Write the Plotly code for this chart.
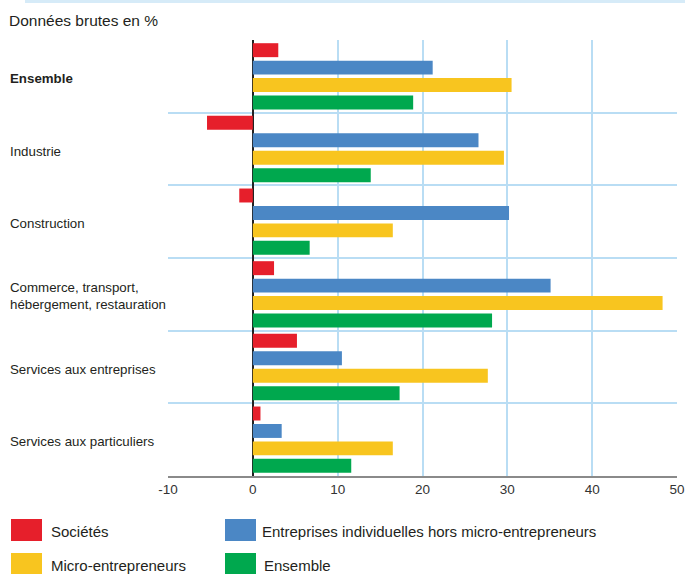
import plotly.graph_objects as go

categories = ["Ensemble", "Industrie", "Construction",
              "Commerce, transport,<br>hébergement, restauration",
              "Services aux entreprises", "Services aux particuliers"]
series_names = ["Sociétés", "Entreprises individuelles hors micro-entrepreneurs",
                "Micro-entrepreneurs", "Ensemble"]
societes = [3.0, -5.4, -1.6, 2.5, 5.2, 0.9]
entreprises_ind = [21.2, 26.6, 30.2, 35.1, 10.5, 3.4]
micro = [30.5, 29.6, 16.5, 48.3, 27.7, 16.5]
ensemble = [18.9, 13.9, 6.7, 28.2, 17.3, 11.6]
colors = ["#E61F2B", "#4B87C5", "#F8C51F", "#00A84E"]
x_ticks = [-10, 0, 10, 20, 30, 40, 50]

FONT = "Liberation Sans, Arial, Helvetica, sans-serif"
W, H = 685, 574
ML, MR, MT, MB = 168, 8, 40, 98
PW, PH = W - ML - MR, H - MT - MB

def px_x(p):
    return (p - ML) / PW

def px_y(p):
    return (H - MB - p) / PH

fig = go.Figure()
for name, vals, col in zip(series_names, [societes, entreprises_ind, micro, ensemble], colors):
    fig.add_trace(go.Bar(y=categories, x=vals, orientation="h", name=name,
                         marker=dict(color=col, line=dict(width=0)), showlegend=False))

# category labels, left aligned
for cat in categories:
    txt = "<b>%s</b>" % cat if cat == "Ensemble" else cat
    fig.add_annotation(x=px_x(8), xref="paper", y=cat, yref="y", text=txt,
                       showarrow=False, xanchor="left", align="left", yshift=-2,
                       font=dict(family=FONT, size=13.3, color="#231f20"))

# title
fig.add_annotation(x=px_x(7), xref="paper", y=px_y(20), yref="paper",
                   text="Données brutes en %", showarrow=False, xanchor="left",
                   yanchor="middle", font=dict(family=FONT, size=15.5, color="#231f20"))

# top decorative band
fig.add_shape(type="rect", xref="paper", yref="paper", x0=px_x(25), x1=px_x(690),
              y0=px_y(0), y1=px_y(3), fillcolor="#D6EBF8", line=dict(width=0), layer="below")

# legend (manual)
leg_pos = [(11, 530, 49), (225, 530, 260), (11, 564, 49), (225, 564, 262)]
for (sx, cy, tx), name, col in zip(leg_pos, series_names, colors):
    fig.add_shape(type="rect", xref="paper", yref="paper", x0=px_x(sx), x1=px_x(sx + 31),
                  y0=px_y(cy - 11), y1=px_y(cy + 11), fillcolor=col, line=dict(width=0))
    fig.add_annotation(x=px_x(tx), xref="paper", y=px_y(cy + 1), yref="paper", text=name,
                       showarrow=False, xanchor="left", yanchor="middle",
                       font=dict(family=FONT, size=15, color="#231f20"))

fig.update_layout(
    width=W, height=H, margin=dict(l=ML, r=MR, t=MT, b=MB, autoexpand=False),
    paper_bgcolor="white", plot_bgcolor="white",
    barmode="group", bargap=0.04, bargroupgap=0.2,
    font=dict(family=FONT, color="#333333"),
    xaxis=dict(range=[-10, 50], tickvals=x_ticks, ticktext=[str(t) for t in x_ticks],
               automargin=False, showgrid=True, gridcolor="#B9DDF4",
               gridwidth=1.5, zeroline=True, zerolinecolor="#222222", zerolinewidth=1.5,
               showline=True, linecolor="#8a8a8a", linewidth=1.5, ticks="",
               tickfont=dict(family=FONT, size=13.5, color="#333333")),
    yaxis=dict(autorange="reversed", tickson="boundaries", showgrid=True, automargin=False,
               gridcolor="#B9DDF4", gridwidth=1.5, showticklabels=False, ticks="",
               zeroline=False, showline=False),
)
fig.write_html("out.html", config={"displayModeBar": False},
               post_script="document.body.style.margin='0';document.body.style.padding='0';")
